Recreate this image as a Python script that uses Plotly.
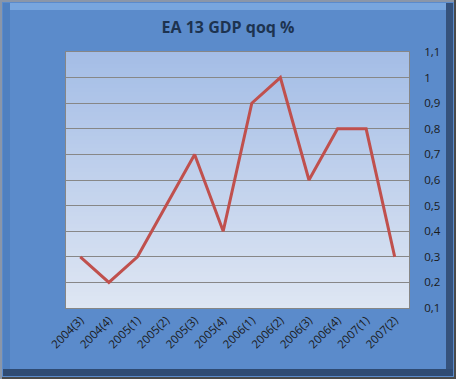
import plotly.graph_objects as go

categories = ["2004(3)", "2004(4)", "2005(1)", "2005(2)", "2005(3)", "2005(4)",
              "2006(1)", "2006(2)", "2006(3)", "2006(4)", "2007(1)", "2007(2)"]
gdp_qoq = [0.3, 0.2, 0.3, 0.5, 0.7, 0.4, 0.9, 1.0, 0.6, 0.8, 0.8, 0.3]
y_ticks = [0.1, 0.2, 0.3, 0.4, 0.5, 0.6, 0.7, 0.8, 0.9, 1.0, 1.1]
y_tick_labels = ["0,1", "0,2", "0,3", "0,4", "0,5", "0,6", "0,7", "0,8", "0,9", "1", "1,1"]

W, H = 456, 379
L, R, T, B = 66, 47, 52, 71
PW, PH = W - L - R, H - T - B


def px(x):
    return (x - L) / PW


def py(y):
    return (H - B - y) / PH


shapes = []
# gradient plot background (blue top -> pale bottom), overlapping bands
n = 64
top = (164, 189, 230)
bot = (222, 230, 243)
for i in range(n):
    f = i / (n - 1)
    c = tuple(int(round(top[k] + (bot[k] - top[k]) * f)) for k in range(3))
    y1 = 1 - i / n
    y0 = max(0, 1 - (i + 1) / n - 0.01)
    shapes.append(dict(type="rect", xref="paper", yref="paper", layer="below",
                       x0=0, x1=1, y0=y0, y1=y1,
                       line=dict(width=0), fillcolor="rgb(%d,%d,%d)" % c))
# bevel frame
frame = [
    (3, 3, W - 3, 10, "#78a6de"),
    (3, 3, 10, H - 3, "#4f80c0"),
    (W - 10, 3, W - 3, H - 3, "#35527c"),
    (3, H - 10, W - 3, H - 3, "#2f4b73"),
    (0, 0, W, 2, "#8a96a8"),
    (0, H - 2, W, H, "#4a4a4a"),
    (0, 0, 2, H, "#8a96a8"),
    (W - 2, 0, W, H, "#4a4a4a"),
]
for x0, y0, x1, y1, col in frame:
    shapes.append(dict(type="rect", xref="paper", yref="paper", layer="below",
                       x0=px(x0), x1=px(x1), y0=py(y0), y1=py(y1),
                       line=dict(width=0), fillcolor=col))

fig = go.Figure()
fig.add_trace(go.Scatter(
    x=categories, y=gdp_qoq, mode="lines",
    line=dict(color="#c0504d", width=3),
    showlegend=False, hoverinfo="x+y"))

fig.update_layout(
    width=W, height=H,
    margin=dict(l=L, r=R, t=T, b=B, pad=0, autoexpand=False),
    paper_bgcolor="#5b8bcb",
    plot_bgcolor="rgba(0,0,0,0)",
    separators=",.",
    font=dict(family="Open Sans, DejaVu Sans, sans-serif", size=11, color="#1a1a1a"),
    title=dict(text="<b>EA 13 GDP qoq %</b>", x=0.5, xref="container", xanchor="center",
               y=1 - 27 / H, yanchor="middle",
               font=dict(family="Open Sans, DejaVu Sans, sans-serif", size=16, color="#1d3350")),
    shapes=shapes,
    xaxis=dict(type="category", range=[-0.5, len(categories) - 0.5], automargin=False,
               showgrid=False, zeroline=False, tickangle=-45,
               ticks="", showline=True, linecolor="#868686", linewidth=1, mirror=True,
               tickfont=dict(size=11.5, color="#1a1a1a")),
    yaxis=dict(range=[0.1, 1.1], side="right", tickvals=y_ticks, ticktext=y_tick_labels,
               automargin=False,
               showgrid=True, gridcolor="#878787", gridwidth=1, zeroline=False,
               showline=True, linecolor="#868686", linewidth=1, mirror=True,
               ticks="", ticklabelstandoff=12,
               tickfont=dict(size=11.5, color="#1a1a1a")),
)

fig.write_html("out.html", config={"displayModeBar": False},
               post_script="document.body.style.margin='0';document.body.style.overflow='hidden';")
